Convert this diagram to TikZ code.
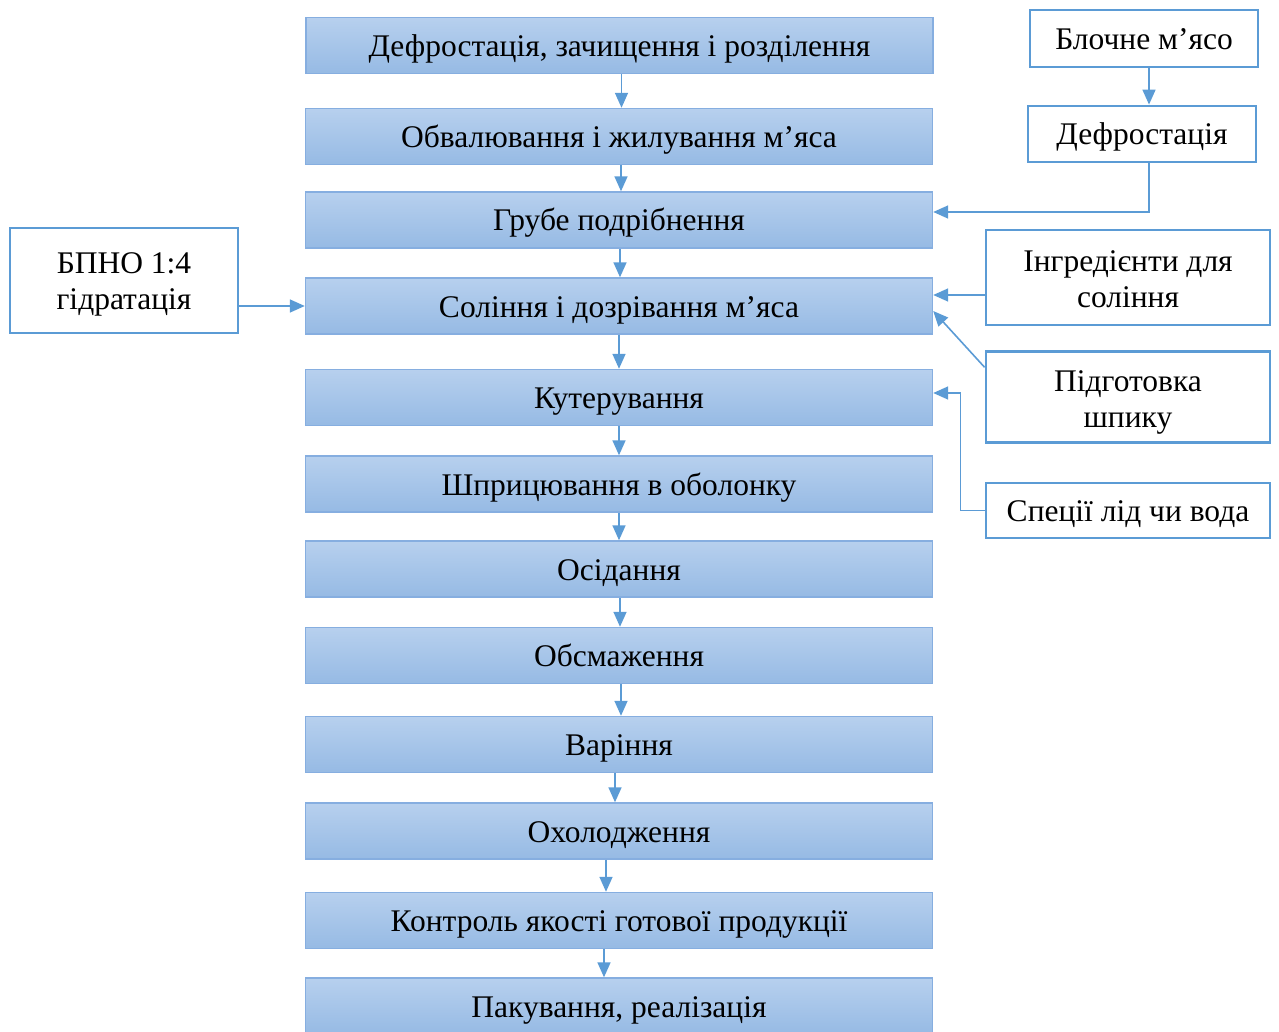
\documentclass[tikz,border=0pt]{standalone}
\usepackage{fontspec}
\setmainfont{Liberation Serif}
\usetikzlibrary{arrows.meta}
\definecolor{arrblue}{HTML}{5B9BD5}
\definecolor{boxtop}{HTML}{B7D0EE}
\definecolor{boxbot}{HTML}{96BAE4}
\definecolor{boxline}{HTML}{86AEE0}
\newcommand{\twolines}[3][260pt]{\parbox[t]{#1}{\centering #2\\#3}}
\tikzset{
  stage/.style={rectangle, minimum width=627pt, minimum height=56pt, inner sep=0pt,
    top color=boxtop, bottom color=boxbot, draw=boxline, line width=1.4pt,
    text height=22pt, text depth=0pt,
    font=\fontsize{31.5}{36}\selectfont},
  side/.style={rectangle, draw=arrblue, line width=2.8pt, fill=white, inner sep=0pt,
    align=center, text height=22pt, text depth=0pt, font=\fontsize{31.5}{36}\selectfont},
  sidetwo/.style={side, text height=0pt, text depth=12pt},
  arr/.style={draw=arrblue, line width=1.6pt, -{Triangle[length=15pt,width=13pt]}}
}
\begin{document}
\begin{tikzpicture}[x=1pt,y=-1pt]
\useasboundingbox (0,0) rectangle (1279,1032);
% main column
\node[stage] (b1) at (619.5,45.5) {Дефростація, зачищення і розділення};
\node[stage] (b2) at (619,136.5) {Обвалювання і жилування м’яса};
\node[stage] (b3) at (619,220) {Грубе подрібнення};
\node[stage] (b4) at (619,306) {Соління і дозрівання м’яса};
\node[stage] (b5) at (619,397.5) {Кутерування};
\node[stage] (b6) at (619,484) {Шприцювання в оболонку};
\node[stage] (b7) at (619,569) {Осідання};
\node[stage] (b8) at (619,655.5) {Обсмаження};
\node[stage] (b9) at (619,744.5) {Варіння};
\node[stage] (b10) at (619,831) {Охолодження};
\node[stage] (b11) at (619,920.5) {Контроль якості готової продукції};
\node[stage] (b12) at (619,1006) {Пакування, реалізація};
% side boxes
\node[side, minimum width=228pt, minimum height=57pt] (bm) at (1144,38.5) {Блочне м’ясо};
\node[side, minimum width=228pt, minimum height=56pt] (df) at (1142,134) {Дефростація};
\node[sidetwo, minimum width=284pt, minimum height=95pt] (ing) at (1128,277.5) {\twolines{Інгредієнти для}{соління}};
\node[sidetwo, minimum width=284pt, minimum height=91pt] (pid) at (1128,397.3) {\twolines{Підготовка}{шпику}};
\node[side, minimum width=284pt, minimum height=55pt] (sp) at (1128,510.5) {Спеції лід чи вода};
\node[sidetwo, text depth=14pt, minimum width=228pt, minimum height=105pt] (bp) at (124,280.5) {\twolines[200pt]{БПНО 1:4}{гідратація}};
% main arrows
\draw[arr] ([xshift=2pt]b1.south) -- ([xshift=2pt]b1.south |- b2.north);
\draw[arr] ([xshift=2pt]b2.south) -- ([xshift=2pt]b2.south |- b3.north);
\draw[arr] ([xshift=1pt]b3.south) -- ([xshift=1pt]b3.south |- b4.north);
\draw[arr] (b4.south) -- (b5.north);
\draw[arr] (b5.south) -- (b6.north);
\draw[arr] (b6.south) -- (b7.north);
\draw[arr] ([xshift=1pt]b7.south) -- ([xshift=1pt]b7.south |- b8.north);
\draw[arr] ([xshift=2pt]b8.south) -- ([xshift=2pt]b8.south |- b9.north);
\draw[arr] ([xshift=-4pt]b9.south) -- ([xshift=-4pt]b9.south |- b10.north);
\draw[arr] ([xshift=-13pt]b10.south) -- ([xshift=-13pt]b10.south |- b11.north);
\draw[arr] ([xshift=-15pt]b11.south) -- ([xshift=-15pt]b11.south |- b12.north);
% side arrows
\draw[arr] ([xshift=5pt]bm.south) -- ([xshift=5pt]bm.south |- df.north);
\draw[arr] ([xshift=7pt]df.south) |- ([yshift=8pt]b3.east);
\draw[arr] ([yshift=-17.5pt]ing.west) -- ([yshift=-17.5pt]ing.west -| b4.east);
\draw[arr] ([yshift=30pt]pid.west) -- ([yshift=-5pt]b4.east);
\draw[arr] (sp.west) -- ++(-24,0) |- ([yshift=4.5pt]b5.east);
\draw[arr] ([yshift=-25.5pt]bp.east) -- (b4.west);
\end{tikzpicture}
\end{document}
